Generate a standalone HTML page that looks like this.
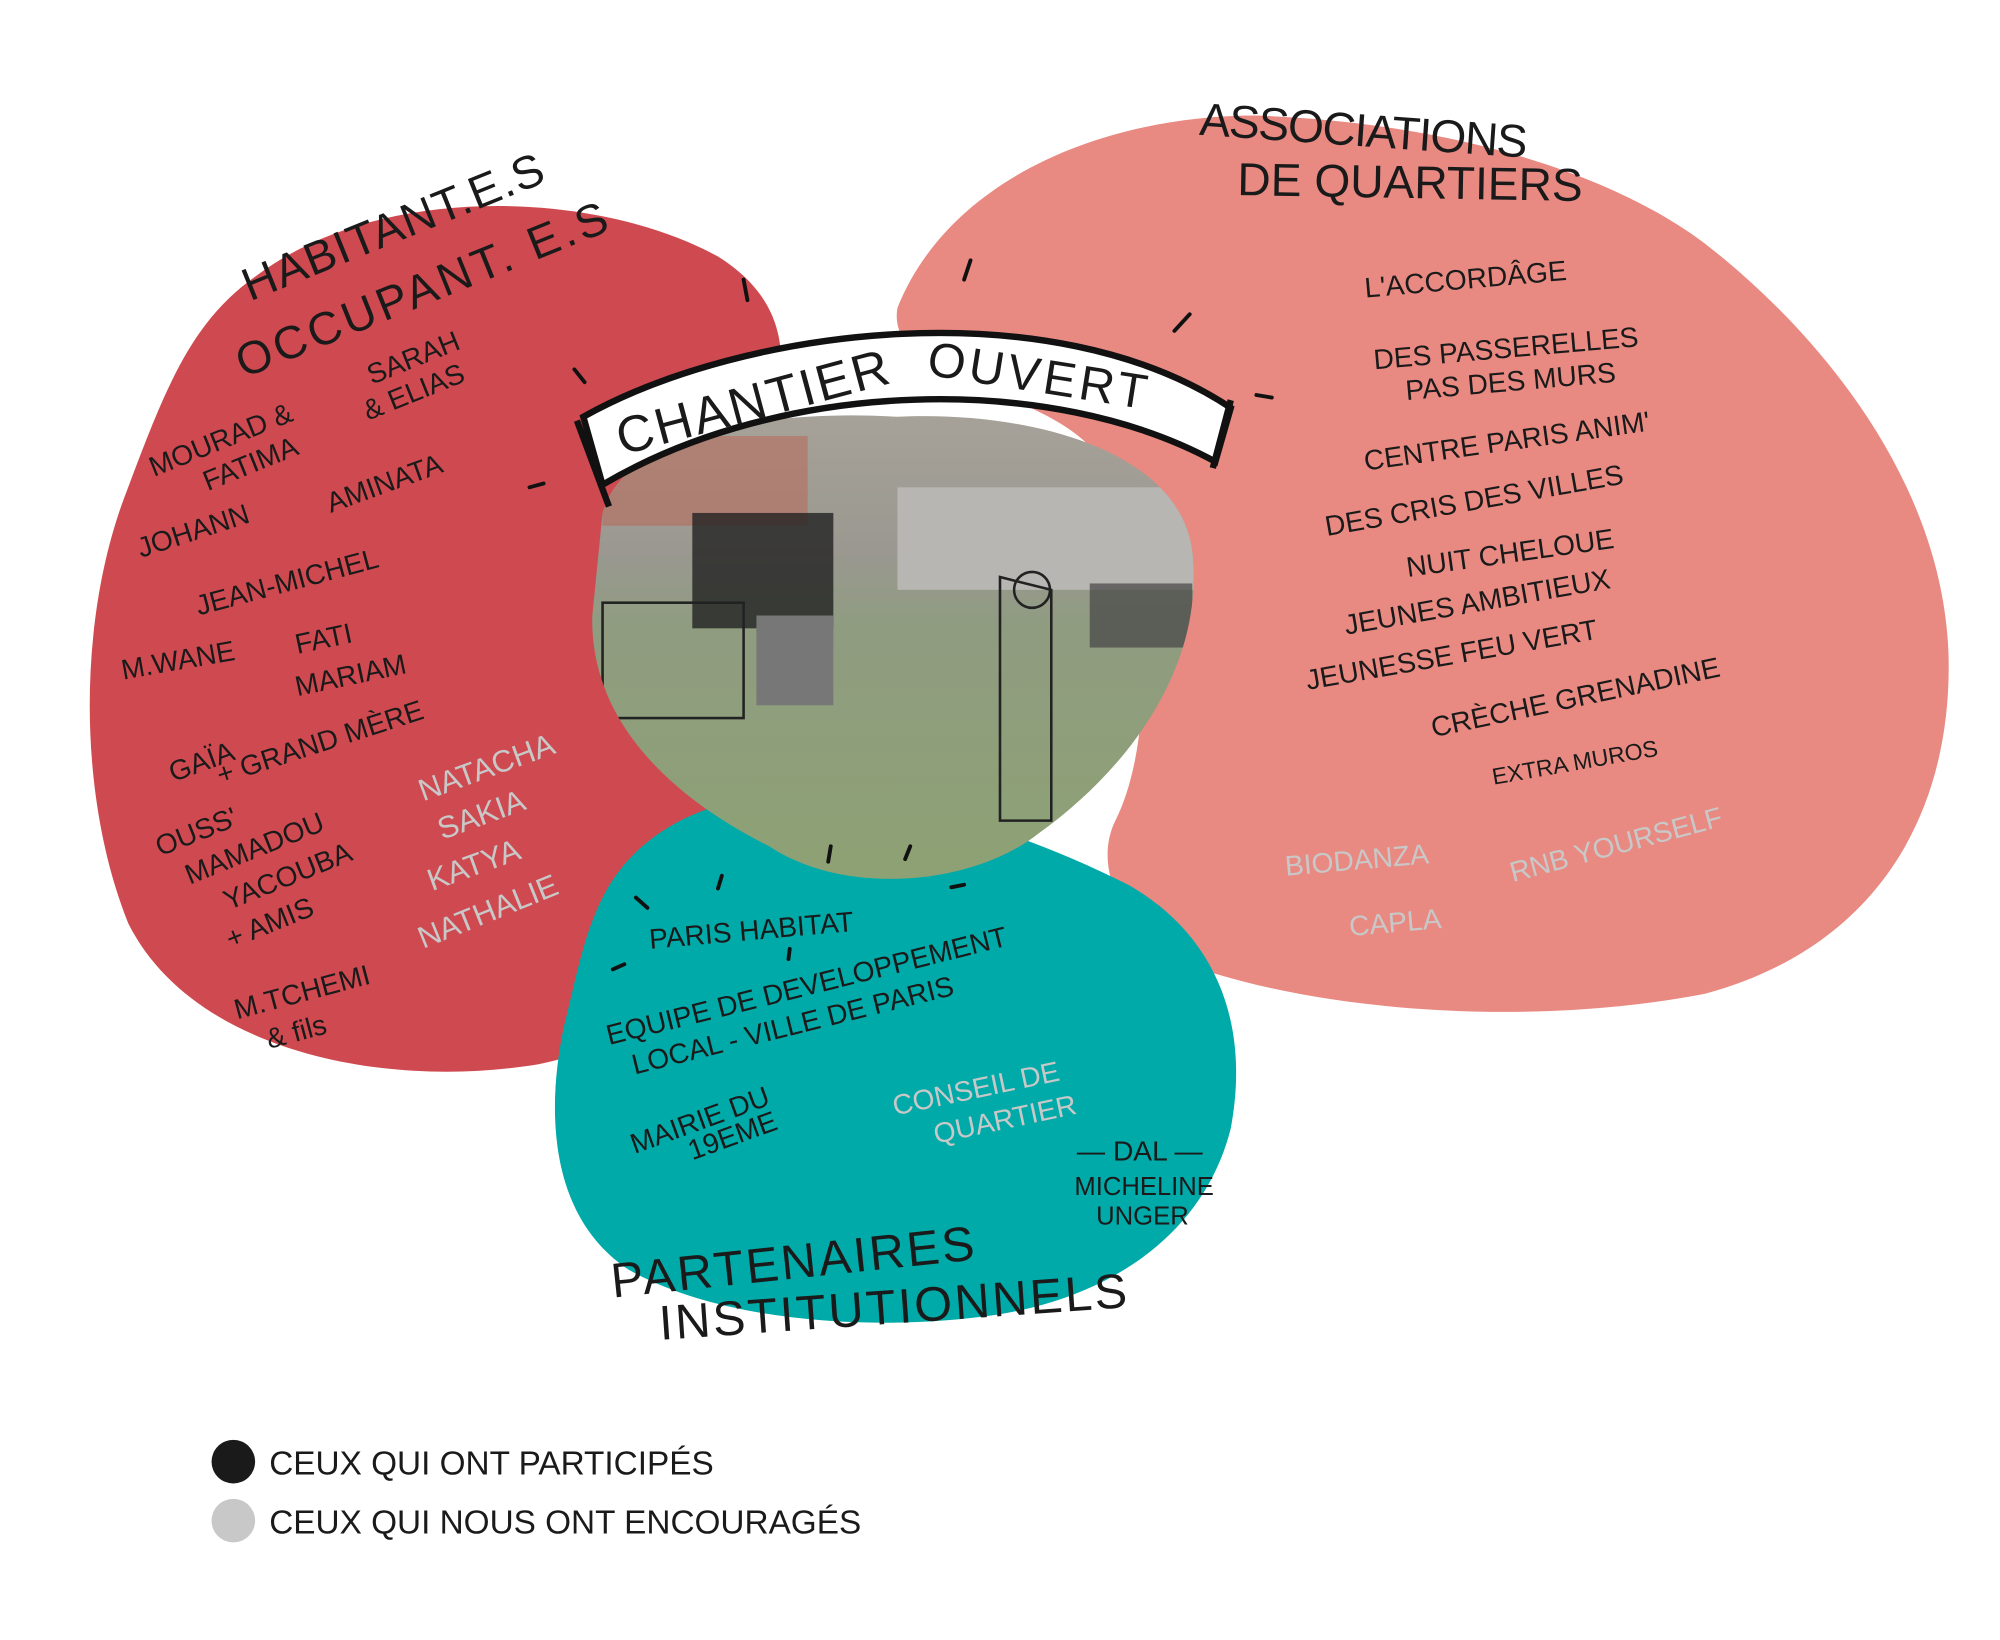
<!DOCTYPE html>
<html><head><meta charset="utf-8"><style>
html,body{margin:0;padding:0;background:#fff;}
svg{display:block}
text{font-family:"Liberation Sans",sans-serif;fill:#1a1a1a;}
.g{fill:#c8c8c8}
</style></head><body>
<svg width="2000" height="1640" viewBox="0 0 1560 1279" xmlns="http://www.w3.org/2000/svg">
<defs>
<linearGradient id="ph" x1="0" y1="0" x2="0" y2="1">
<stop offset="0" stop-color="#a8a39a"/><stop offset="0.3" stop-color="#9a9890"/>
<stop offset="0.45" stop-color="#8f9c80"/><stop offset="1" stop-color="#8ea272"/>
</linearGradient>
<clipPath id="cp"><path d="M470 400 C490 330 620 320 700 325 C800 320 920 350 930 430 C940 520 880 600 810 650 C760 690 660 700 600 660 C520 620 460 560 462 480 Z"/></clipPath>
</defs>
<path d="M200 215 C300 140 470 150 560 200 C640 250 610 330 560 420 C520 500 540 580 560 660 C580 740 520 810 420 830 C300 850 150 820 100 720 C60 620 60 480 100 380 C130 300 150 250 200 215 Z" fill="#cf4a50"/>
<path d="M700 240 C740 140 860 90 980 90 C1120 95 1250 130 1330 190 C1420 260 1520 380 1520 520 C1520 640 1460 740 1330 775 C1200 800 1050 790 950 760 C880 740 850 680 870 640 C900 580 900 460 860 360 C820 300 690 300 700 240 Z" fill="#e88a82"/>
<path d="M470 700 C500 640 570 615 640 620 C720 625 800 650 880 690 C950 730 975 800 960 880 C940 960 870 1010 780 1025 C680 1040 560 1030 490 990 C430 950 425 870 440 800 C450 760 455 730 470 700 Z" fill="#00aaa8"/>
<g clip-path="url(#cp)">
<rect x="450" y="310" width="500" height="400" fill="url(#ph)"/>
<rect x="470" y="340" width="160" height="70" fill="#b86d5e" opacity="0.6"/>
<rect x="700" y="380" width="240" height="80" fill="#b7b6b2"/>
<rect x="540" y="400" width="110" height="90" fill="#222" opacity="0.8"/>
<rect x="470" y="470" width="110" height="90" fill="none" stroke="#222" stroke-width="2"/>
<rect x="590" y="480" width="60" height="70" fill="#777"/>
<rect x="850" y="455" width="80" height="50" fill="#444" opacity="0.7"/>
<path d="M780 450 L820 460 L820 640 L780 640 Z" fill="none" stroke="#222" stroke-width="2"/>
<circle cx="805" cy="460" r="14" fill="none" stroke="#222" stroke-width="2"/>
</g>
<path d="M455 325 C580 255 820 225 960 318 L948 360 C820 290 610 295 470 378 Z" fill="#fff" stroke="#111" stroke-width="5"/>
<line x1="450" y1="328" x2="475" y2="395" stroke="#111" stroke-width="5"/>
<line x1="960" y1="312" x2="946" y2="365" stroke="#111" stroke-width="5"/>
<text font-size="40" transform="translate(485 355) rotate(-15)" letter-spacing="2">CHANTIER</text>
<text font-size="38" transform="translate(722 292) rotate(9)" letter-spacing="3">OUVERT</text>
<g stroke="#111" stroke-width="3" stroke-linecap="round">
<line x1="580" y1="218" x2="583" y2="234"/><line x1="448" y1="288" x2="456" y2="298"/>
<line x1="413" y1="380" x2="424" y2="377"/><line x1="757" y1="203" x2="752" y2="218"/>
<line x1="928" y1="245" x2="916" y2="258"/><line x1="980" y1="308" x2="992" y2="310"/>
<line x1="496" y1="700" x2="505" y2="708"/><line x1="563" y1="683" x2="560" y2="693"/>
<line x1="648" y1="660" x2="646" y2="672"/><line x1="710" y1="660" x2="706" y2="670"/>
<line x1="742" y1="692" x2="752" y2="690"/><line x1="487" y1="752" x2="478" y2="756"/>
<line x1="616" y1="740" x2="615" y2="748"/>
</g>
<text font-size="36" transform="translate(195 235) rotate(-22)" letter-spacing="1">HABITANT.E.S</text>
<text font-size="36" transform="translate(190 295) rotate(-22)" letter-spacing="3">OCCUPANT. E.S</text>
<text font-size="36" transform="translate(935 105) rotate(4)" letter-spacing="-1">ASSOCIATIONS</text>
<text font-size="36" transform="translate(965 152) rotate(1)" letter-spacing="0">DE QUARTIERS</text>
<text font-size="38" transform="translate(478 1012) rotate(-6)" letter-spacing="2">PARTENAIRES</text>
<text font-size="38" transform="translate(515 1045) rotate(-4)" letter-spacing="2">INSTITUTIONNELS</text>
<g font-size="22">
<text transform="translate(120 372) rotate(-22)">MOURAD &amp;</text>
<text transform="translate(162 383) rotate(-22)">FATIMA</text>
<text transform="translate(290 300) rotate(-22)">SARAH</text>
<text transform="translate(287 328) rotate(-22)">&amp; ELIAS</text>
<text transform="translate(110 435) rotate(-18)">JOHANN</text>
<text transform="translate(258 400) rotate(-20)">AMINATA</text>
<text transform="translate(155 480) rotate(-15)">JEAN-MICHEL</text>
<text transform="translate(96 530) rotate(-10)">M.WANE</text>
<text transform="translate(232 510) rotate(-12)">FATI</text>
<text transform="translate(232 543) rotate(-12)">MARIAM</text>
<text transform="translate(135 610) rotate(-20)">GAÏA</text>
<text transform="translate(172 612) rotate(-18)">+ GRAND MÈRE</text>
<text transform="translate(125 668) rotate(-22)">OUSS'</text>
<text transform="translate(148 690) rotate(-22)">MAMADOU</text>
<text transform="translate(178 710) rotate(-22)">YACOUBA</text>
<text transform="translate(180 740) rotate(-22)">+ AMIS</text>
<text transform="translate(185 795) rotate(-15)">M.TCHEMI</text>
<text transform="translate(210 818) rotate(-15)">&amp; fils</text>
<text class="g" font-size="24" transform="translate(330 625) rotate(-20)">NATACHA</text>
<text class="g" font-size="24" transform="translate(345 655) rotate(-20)">SAKIA</text>
<text class="g" font-size="24" transform="translate(337 695) rotate(-20)">KATYA</text>
<text class="g" font-size="24" transform="translate(330 740) rotate(-22)">NATHALIE</text>
</g>
<g font-size="22">
<text transform="translate(1065 232) rotate(-5)">L'ACCORDÂGE</text>
<text transform="translate(1072 288) rotate(-5)">DES PASSERELLES</text>
<text transform="translate(1097 312) rotate(-5)">PAS DES MURS</text>
<text transform="translate(1065 367) rotate(-8)">CENTRE PARIS ANIM'</text>
<text transform="translate(1035 418) rotate(-10)">DES CRIS DES VILLES</text>
<text transform="translate(1098 450) rotate(-8)">NUIT CHELOUE</text>
<text transform="translate(1050 495) rotate(-10)">JEUNES AMBITIEUX</text>
<text transform="translate(1020 538) rotate(-10)">JEUNESSE FEU VERT</text>
<text transform="translate(1118 575) rotate(-12)">CRÈCHE GRENADINE</text>
<text font-size="18" transform="translate(1165 612) rotate(-10)">EXTRA MUROS</text>
<text class="g" transform="translate(1003 683) rotate(-5)">BIODANZA</text>
<text class="g" transform="translate(1053 730) rotate(-5)">CAPLA</text>
<text class="g" transform="translate(1180 688) rotate(-15)">RNB YOURSELF</text>
</g>
<g font-size="22">
<text transform="translate(507 740) rotate(-5)">PARIS HABITAT</text>
<text transform="translate(475 815) rotate(-14)">EQUIPE DE DEVELOPPEMENT</text>
<text transform="translate(495 838) rotate(-14)">LOCAL - VILLE DE PARIS</text>
<text transform="translate(495 900) rotate(-20)">MAIRIE DU</text>
<text transform="translate(540 905) rotate(-20)">19EME</text>
<text class="g" transform="translate(698 870) rotate(-12)">CONSEIL DE</text>
<text class="g" transform="translate(730 892) rotate(-12)">QUARTIER</text>
<text transform="translate(840 905)">— DAL —</text>
<text font-size="20" transform="translate(838 932)">MICHELINE</text>
<text font-size="20" transform="translate(855 955)">UNGER</text>
</g>
<circle cx="182" cy="1140" r="17" fill="#1a1a1a"/>
<circle cx="182" cy="1186" r="17" fill="#c8c8c8"/>
<text x="210" y="1150" font-size="26">CEUX QUI ONT PARTICIPÉS</text>
<text x="210" y="1196" font-size="26">CEUX QUI NOUS ONT ENCOURAGÉS</text>
</svg>
</body></html>
